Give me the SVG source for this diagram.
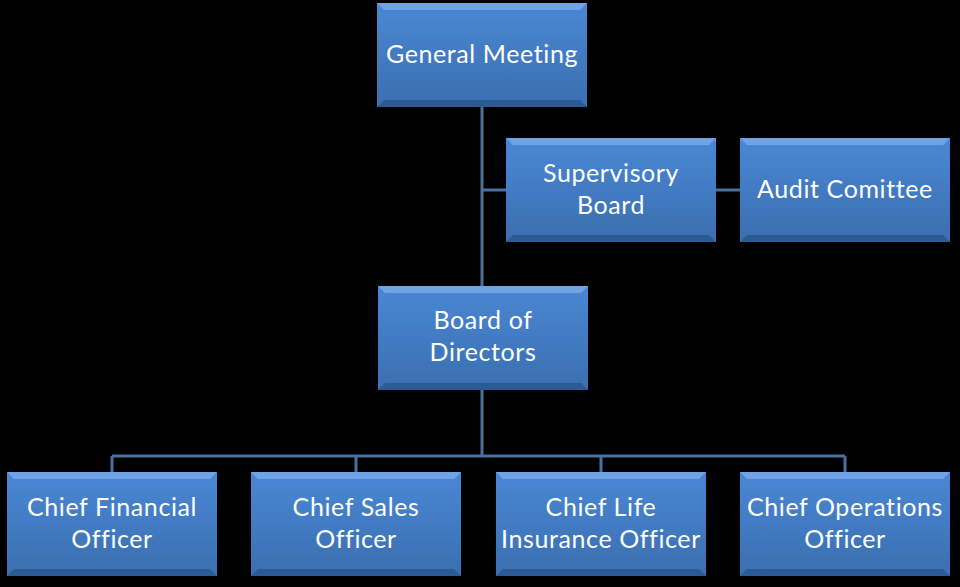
<svg xmlns="http://www.w3.org/2000/svg" width="960" height="587" viewBox="0 0 960 587">
<defs>
<linearGradient id="g" x1="0" y1="0" x2="0" y2="1">
<stop offset="0" stop-color="#4a87d4"/>
<stop offset="1" stop-color="#3a6fb0"/>
</linearGradient>
<style>
.box{fill:url(#g);}
.hi{fill:#6fa3e6;}
.lo{fill:#2c5a93;}
.t{font-family:Lato,"Open Sans",sans-serif;font-size:25px;letter-spacing:0.6px;fill:#ffffff;text-anchor:middle;}
.c{stroke:#4a70a0;stroke-width:3;fill:none;}
</style>
</defs>
<rect width="960" height="587" fill="#000"/>
<g id="connectors">
<path class="c" d="M482 107V286M482 190H506M716 190H740M482 390V456M112 456H845M112 456V472M356 456V472M601 456V472M845 456V472"/>
</g>
<g id="n-gm"><rect class="box" x="377" y="3" width="210" height="104"/><polygon class="hi" points="377,3 587,3 580,10 384,10"/><polygon class="lo" points="377,107 587,107 580,100 384,100"/><text class="t" x="482" y="63">General Meeting</text></g>
<g id="n-sb"><rect class="box" x="506" y="138" width="210" height="104"/><polygon class="hi" points="506,138 716,138 709,145 513,145"/><polygon class="lo" points="506,242 716,242 709,235 513,235"/><text class="t" x="611" y="182">Supervisory</text><text class="t" x="611" y="214">Board</text></g>
<g id="n-ac"><rect class="box" x="740" y="138" width="210" height="104"/><polygon class="hi" points="740,138 950,138 943,145 747,145"/><polygon class="lo" points="740,242 950,242 943,235 747,235"/><text class="t" x="845" y="198">Audit Comittee</text></g>
<g id="n-bd"><rect class="box" x="378" y="286" width="210" height="104"/><polygon class="hi" points="378,286 588,286 581,293 385,293"/><polygon class="lo" points="378,390 588,390 581,383 385,383"/><text class="t" x="483" y="329">Board of</text><text class="t" x="483" y="361">Directors</text></g>
<g id="n-cfo"><rect class="box" x="7" y="472" width="210" height="104"/><polygon class="hi" points="7,472 217,472 210,479 14,479"/><polygon class="lo" points="7,576 217,576 210,569 14,569"/><text class="t" x="112" y="516">Chief Financial</text><text class="t" x="112" y="548">Officer</text></g>
<g id="n-cso"><rect class="box" x="251" y="472" width="210" height="104"/><polygon class="hi" points="251,472 461,472 454,479 258,479"/><polygon class="lo" points="251,576 461,576 454,569 258,569"/><text class="t" x="356" y="516">Chief Sales</text><text class="t" x="356" y="548">Officer</text></g>
<g id="n-clio"><rect class="box" x="496" y="472" width="210" height="104"/><polygon class="hi" points="496,472 706,472 699,479 503,479"/><polygon class="lo" points="496,576 706,576 699,569 503,569"/><text class="t" x="601" y="516">Chief Life</text><text class="t" x="601" y="548">Insurance Officer</text></g>
<g id="n-coo"><rect class="box" x="740" y="472" width="210" height="104"/><polygon class="hi" points="740,472 950,472 943,479 747,479"/><polygon class="lo" points="740,576 950,576 943,569 747,569"/><text class="t" x="845" y="516">Chief Operations</text><text class="t" x="845" y="548">Officer</text></g>
</svg>
